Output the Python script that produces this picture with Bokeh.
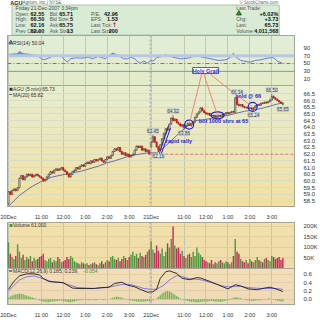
import numpy as np
from bokeh.plotting import figure
from bokeh.layouts import column
from bokeh.models import Range1d, FixedTicker, Span, Label, Grid, NumeralTickFormatter
from bokeh.embed import file_html
from bokeh.resources import INLINE
from bokeh.core.properties import value

FONT = "Liberation Sans"

# ---------------- header data ----------------
symbol = "AGU"
company = "(Agrium, Inc.) NYSE"
stamp = "Friday  21-Dec-2007  3:34pm"
q_open, q_high, q_low, prev_close = "62.55", "66.50", "62.16", 62.00
bid, bid_size, ask, ask_size = "65.71", "5", "65.75", "13"
pe, eps, last_size = "42.96", "1.53", "200"
pct_chg, chg, last, volume_total = "+6.02%", "+3.73", "65.73", "4,011,568"

# ---------------- 5-minute bars, 20 Dec (78) ----------------
d1_open = [58.30, 59.20, 59.00, 59.30, 59.40, 59.30, 59.50, 60.20, 60.40, 60.10,
           60.30, 60.50, 60.40, 60.50, 60.30, 60.40, 60.50, 60.40, 60.30, 60.20,
           60.00, 60.10, 60.30, 60.50, 60.70, 60.60, 60.80, 60.90, 60.80, 60.90,
           61.00, 60.80, 60.70, 60.50, 60.30, 60.50, 60.70, 60.80, 61.00, 60.90,
           61.10, 61.20, 61.10, 61.30, 61.40, 61.30, 61.50, 61.40, 61.60, 61.50,
           61.60, 61.70, 61.50, 61.40, 61.60, 61.80, 61.70, 61.90, 62.20, 62.40,
           62.30, 62.50, 62.20, 62.00, 62.10, 61.90, 62.00, 61.80, 61.90, 62.00,
           62.30, 62.60, 62.50, 62.60, 62.30, 62.40, 62.20, 62.30]
d1_high = [59.25, 59.25, 59.35, 59.45, 59.45, 59.55, 60.25, 60.45, 60.45, 60.35,
           60.55, 60.55, 60.55, 60.55, 60.45, 60.55, 60.55, 60.45, 60.35, 60.25,
           60.15, 60.35, 60.55, 60.75, 60.75, 60.85, 60.95, 60.95, 60.95, 61.05,
           61.05, 60.85, 60.75, 60.55, 60.55, 60.75, 60.85, 61.05, 61.05, 61.15,
           61.25, 61.25, 61.35, 61.45, 61.45, 61.55, 61.55, 61.65, 61.65, 61.65,
           61.75, 61.75, 61.55, 61.65, 61.85, 61.85, 61.95, 62.25, 62.45, 62.45,
           62.55, 62.55, 62.25, 62.15, 62.15, 62.05, 62.05, 61.95, 62.05, 62.35,
           62.65, 62.65, 62.65, 62.65, 62.45, 62.45, 62.35, 62.35]
d1_low = [58.20, 58.95, 58.95, 59.25, 59.20, 59.25, 59.45, 60.15, 60.05, 60.05,
          60.25, 60.35, 60.35, 60.25, 60.25, 60.35, 60.35, 60.25, 60.15, 59.95,
          59.95, 60.05, 60.25, 60.45, 60.55, 60.55, 60.75, 60.75, 60.75, 60.85,
          60.75, 60.65, 60.45, 60.25, 60.25, 60.45, 60.65, 60.75, 60.85, 60.85,
          61.05, 61.05, 61.05, 61.25, 61.25, 61.25, 61.35, 61.35, 61.45, 61.45,
          61.55, 61.45, 61.35, 61.35, 61.55, 61.65, 61.65, 61.85, 62.15, 62.25,
          62.25, 62.15, 61.95, 61.95, 61.85, 61.85, 61.75, 61.75, 61.85, 61.95,
          62.25, 62.45, 62.45, 62.25, 62.25, 62.15, 62.15, 61.95]
d1_close = [59.20, 59.00, 59.30, 59.40, 59.30, 59.50, 60.20, 60.40, 60.10, 60.30,
            60.50, 60.40, 60.50, 60.30, 60.40, 60.50, 60.40, 60.30, 60.20, 60.00,
            60.10, 60.30, 60.50, 60.70, 60.60, 60.80, 60.90, 60.80, 60.90, 61.00,
            60.80, 60.70, 60.50, 60.30, 60.50, 60.70, 60.80, 61.00, 60.90, 61.10,
            61.20, 61.10, 61.30, 61.40, 61.30, 61.50, 61.40, 61.60, 61.50, 61.60,
            61.70, 61.50, 61.40, 61.60, 61.80, 61.70, 61.90, 62.20, 62.40, 62.30,
            62.50, 62.20, 62.00, 62.10, 61.90, 62.00, 61.80, 61.90, 62.00, 62.30,
            62.60, 62.50, 62.60, 62.30, 62.40, 62.20, 62.30, 62.00]

# ---------------- 5-minute bars, 21 Dec (73, to 3:34pm) ----------------
d2_open = [62.55, 62.90, 63.30, 62.90, 62.55, 62.30, 62.70, 63.15, 63.55, 63.90,
           63.80, 64.25, 64.70, 64.50, 64.60, 64.35, 64.25, 64.10, 64.20, 64.00,
           64.15, 64.30, 64.15, 64.25, 64.40, 64.75, 65.00, 65.15, 65.45, 65.25,
           65.10, 65.00, 65.05, 64.90, 64.85, 64.90, 64.80, 64.85, 64.90, 64.86,
           64.95, 65.00, 65.10, 65.02, 65.12, 65.18, 65.12, 66.20, 65.70, 65.62,
           65.70, 65.55, 65.48, 65.50, 65.42, 65.45, 65.38, 65.46, 65.60, 65.70,
           65.65, 65.80, 65.78, 65.88, 65.82, 65.92, 66.05, 66.30, 66.20, 66.10,
           66.00, 65.90, 65.80]
d2_high = [62.95, 63.45, 63.35, 62.95, 62.60, 62.75, 63.20, 63.60, 63.95, 64.05,
           64.30, 64.75, 64.92, 64.70, 64.65, 64.45, 64.35, 64.25, 64.25, 64.20,
           64.35, 64.35, 64.30, 64.45, 64.80, 65.05, 65.20, 65.50, 65.50, 65.30,
           65.15, 65.10, 65.08, 64.95, 64.95, 64.92, 64.90, 64.95, 64.95, 65.00,
           65.05, 65.15, 65.15, 65.15, 65.22, 65.25, 66.25, 66.34, 65.80, 65.75,
           65.72, 65.60, 65.55, 65.52, 65.50, 65.48, 65.50, 65.65, 65.75, 65.78,
           65.85, 65.90, 65.92, 65.95, 65.95, 66.10, 66.50, 66.40, 66.25, 66.15,
           66.05, 65.95, 65.88]
d2_low = [62.45, 62.85, 62.85, 62.50, 62.16, 62.25, 62.65, 63.10, 63.50, 63.70,
          63.75, 64.20, 64.45, 64.45, 64.30, 64.20, 64.05, 64.00, 63.86, 63.95,
          64.10, 64.10, 64.05, 64.15, 64.35, 64.70, 64.95, 65.10, 65.20, 65.05,
          64.95, 64.90, 64.85, 64.80, 64.78, 64.75, 64.75, 64.80, 64.82, 64.84,
          64.90, 64.95, 64.98, 65.00, 65.05, 65.08, 65.10, 65.65, 65.55, 65.55,
          65.50, 65.42, 65.40, 65.38, 65.35, 65.30, 65.24, 65.44, 65.55, 65.60,
          65.62, 65.72, 65.75, 65.78, 65.80, 65.88, 66.00, 66.15, 66.05, 65.95,
          65.85, 65.78, 65.65]
d2_close = [62.90, 63.30, 62.90, 62.55, 62.30, 62.70, 63.15, 63.55, 63.90, 63.80,
            64.25, 64.70, 64.50, 64.60, 64.35, 64.25, 64.10, 64.20, 64.00, 64.15,
            64.30, 64.15, 64.25, 64.40, 64.75, 65.00, 65.15, 65.45, 65.25, 65.10,
            65.00, 65.05, 64.90, 64.85, 64.90, 64.80, 64.85, 64.90, 64.86, 64.95,
            65.00, 65.10, 65.02, 65.12, 65.18, 65.12, 66.20, 65.70, 65.62, 65.70,
            65.55, 65.48, 65.50, 65.42, 65.45, 65.38, 65.46, 65.60, 65.70, 65.65,
            65.80, 65.78, 65.88, 65.82, 65.92, 66.05, 66.30, 66.20, 66.10, 66.00,
            65.90, 65.80, 65.73]

# volume per bar, thousands of shares
vol_d1 = [125, 70, 55, 45, 60, 115, 80, 50, 65, 40,
          55, 45, 60, 35, 50, 40, 45, 55, 60, 70,
          40, 35, 45, 50, 30, 40, 35, 55, 45, 30,
          35, 40, 55, 45, 60, 50, 35, 30, 25, 20,
          30, 25, 20, 25, 15, 20, 25, 30, 20, 15,
          25, 35, 20, 30, 40, 35, 55, 60, 45, 40,
          50, 35, 45, 60, 50, 40, 55, 65, 80, 60,
          70, 50, 75, 60, 55, 65, 80, 90]
vol_d2 = [130, 90, 75, 110, 85, 70, 95, 60, 80, 120,
          100, 140, 200, 110, 95, 100, 70, 85, 60, 50,
          65, 70, 55, 80, 60, 100, 75, 65, 55, 40,
          35, 30, 25, 40, 20, 30, 25, 35, 40, 30,
          25, 35, 30, 20, 30, 60, 140, 80, 70, 45,
          35, 30, 40, 25, 45, 35, 30, 40, 55, 40,
          35, 30, 45, 50, 40, 35, 60, 55, 45, 50,
          55, 40, 50]

# MA(20) (bar index, price)
ma_k = [0, 6, 13, 19, 24, 31, 40, 49, 54, 58, 67, 76, 81, 85, 92, 97, 102, 108, 112, 120, 129, 138, 147, 150]
ma_v = [58.1, 58.93, 59.6, 60.04, 60.3, 60.5, 60.74, 61.1, 61.36, 61.5, 61.9, 62.1, 62.1, 62.5, 63.4, 64.0,
        64.5, 64.6, 64.7, 64.9, 65.2, 65.4, 65.74, 65.82]

# RSI(14)
rsi_k = [0, 5, 6, 8, 12, 15, 17, 19, 21, 24, 28, 29, 32, 34, 37, 40, 44, 46, 49, 53,
         55, 57, 60, 63, 65, 67, 69, 71, 72, 74, 76, 78, 79, 81, 84, 86, 87, 90, 94, 95,
         99, 103, 104, 108, 113, 115, 119, 120, 122, 123, 124, 127, 129, 132, 135, 138, 140, 143, 145, 147, 150]
rsi_v = [73, 74.8, 80.6, 74.8, 73, 70.4, 66, 59.5, 62, 68, 70.4, 68, 53.4, 62, 64.6, 63.8, 66, 62, 68, 62,
         70.4, 76.3, 70.4, 62, 62, 66, 62, 53.4, 50.9, 56, 50.9, 57.7, 56, 64.6, 68, 73, 70.4, 66, 62, 62,
         64.6, 70.4, 68, 64.6, 59.5, 57.7, 59.5, 62, 68, 76.3, 68, 57.7, 56, 53.4, 57.7, 59.5, 62, 64.6, 64.6, 56, 50.04]

# MACD(12,26,9)
macd_k = [0, 3, 6, 10, 14, 17, 19, 22, 26, 30, 31, 35, 38, 42, 47, 51, 55, 58, 62, 65,
          69, 72, 76, 79, 81, 83, 86, 88, 92, 95, 99, 103, 105, 110, 115, 120, 124, 127, 131, 136,
          140, 143, 147, 150]
macd_v = [0.24, 0.43, 0.56, 0.61, 0.61, 0.58, 0.50, 0.43, 0.41, 0.40, 0.37, 0.27, 0.26, 0.26, 0.26, 0.28, 0.29, 0.38, 0.41, 0.34,
          0.30, 0.24, 0.17, 0.18, 0.24, 0.50, 0.66, 0.68, 0.62, 0.50, 0.47, 0.52, 0.51, 0.43, 0.34, 0.25, 0.35, 0.32, 0.25, 0.23,
          0.27, 0.29, 0.24, 0.185]
sig_k = [0, 3, 6, 10, 14, 17, 21, 24, 28, 31, 35, 38, 46, 53, 56, 60, 63, 67, 71, 74,
         78, 81, 85, 88, 92, 95, 99, 103, 106, 111, 117, 120, 124, 127, 131, 138, 145, 150]
sig_v = [0.20, 0.33, 0.46, 0.54, 0.56, 0.52, 0.46, 0.42, 0.41, 0.37, 0.32, 0.28, 0.26, 0.28, 0.30, 0.34, 0.36, 0.35, 0.30, 0.26,
         0.24, 0.24, 0.34, 0.46, 0.57, 0.54, 0.49, 0.48, 0.46, 0.40, 0.32, 0.30, 0.31, 0.31, 0.28, 0.26, 0.26, 0.239]
hist = ([0.04, 0.07, 0.09, 0.11, 0.12, 0.13, 0.14, 0.13, 0.12, 0.10, 0.09, 0.07, 0.06, 0.05, 0.03, 0.02]
        + [-0.01, -0.02, -0.04, -0.05, -0.06, -0.07, -0.07, -0.06, -0.05, -0.05, -0.04, -0.04, -0.03, -0.03,
           -0.04, -0.05, -0.06, -0.07, -0.07, -0.06, -0.05, -0.04, -0.03, -0.02, -0.02, -0.01, -0.01, -0.02,
           -0.02, -0.01, -0.01, -0.02, -0.02, -0.01, -0.01, -0.01, -0.02, -0.01, -0.01, 0.0]
        + [0.02, 0.04, 0.05, 0.06, 0.06, 0.05, 0.04, 0.02, 0.01]
        + [-0.01, -0.02, -0.03, -0.04, -0.04, -0.05, -0.05, -0.06, -0.06, -0.05, -0.05, -0.04, -0.04, -0.03, -0.02, -0.01]
        + [0.02, 0.06, 0.10, 0.14, 0.17, 0.19, 0.20, 0.19, 0.17, 0.14, 0.11, 0.08, 0.05, 0.02]
        + [-0.01, -0.02, -0.03, -0.04, -0.05, -0.06, -0.06, -0.07, -0.07, -0.07, -0.06, -0.06, -0.05, -0.05,
           -0.05, -0.04, -0.04, -0.04, -0.05, -0.05, -0.06, -0.06, -0.05, -0.04, -0.03, -0.02, -0.01]
        + [0.02, 0.04, 0.05, 0.05, 0.04, 0.03, 0.01]
        + [-0.01, -0.02, -0.03, -0.03, -0.04, -0.04, -0.03, -0.03, -0.02, -0.02, -0.01, -0.01, 0.01, 0.02,
           0.02, 0.01, -0.01, -0.02, -0.03, -0.04, -0.05, -0.054])

# time axis
tick_pos = [0, 18, 30, 42, 54, 66, 78, 96, 108, 120, 132, 144]
tick_lab = ["20Dec", "11:00", "12:00", "1:00", "2:00", "3:00", "21Dec", "11:00", "12:00", "1:00", "2:00", "3:00"]
day_break = 77.5
price_ticks = [58.5, 59.0, 59.5, 60.0, 60.5, 61.0, 61.5, 62.0, 62.5, 63.0, 63.5, 64.0, 64.5, 65.0, 65.5, 66.0, 66.5]
rsi_ticks = [10, 30, 50, 70, 90]
vol_ticks = [50, 100, 150, 200]
vol_tick_lab = ["50K", "100K", "150K", "200K"]
macd_ticks = [0.0, 0.2, 0.4, 0.6]

# labelled swing points (bar index) and chartist notes
hi_marks = [79, 90, 125, 144]
lo_marks = [82, 96, 134, 150]

# ---------------------------------------------------------------
opens = np.array(d1_open + d2_open)
highs = np.array(d1_high + d2_high)
lows = np.array(d1_low + d2_low)
closes = np.array(d1_close + d2_close)
vols = np.array(vol_d1 + vol_d2)
n = len(closes)
assert len(opens) == len(highs) == len(lows) == n == len(vols) == len(hist)
assert len(rsi_k) == len(rsi_v) and len(macd_k) == len(macd_v) and len(sig_k) == len(sig_v)
k = np.arange(n)
up = closes >= opens

xr = Range1d(-0.53, 156.4)


def hexmix(c1, c2, t):
    a = [int(c1[i:i + 2], 16) for i in (1, 3, 5)]
    b = [int(c2[i:i + 2], 16) for i in (1, 3, 5)]
    return "#%02x%02x%02x" % tuple(int(round(a[j] + (b[j] - a[j]) * t)) for j in range(3))


def panel(h, y0, y1, c_top, c_bot, xaxis=False, yticks=None):
    p = figure(width=320, height=h, x_range=xr, y_range=Range1d(y0, y1), title=None,
               output_backend="svg", toolbar_location=None,
               x_axis_location="below" if xaxis else None, y_axis_location="right",
               min_border_left=7, min_border_right=19, min_border_top=0, min_border_bottom=0)
    p.outline_line_color = "#8c8c8c"
    p.border_fill_color = "white"
    p.background_fill_color = c_bot
    p.xgrid.visible = False
    p.ygrid.visible = False
    m = 24
    ys = np.linspace(y0, y1, m + 1)
    cols = [hexmix(c_bot, c_top, (i + 0.5) / m) for i in range(m)]
    p.quad(left=xr.start, right=xr.end, bottom=ys[:-1], top=ys[1:], fill_color=cols,
           line_color=None, level="image")
    p.add_layout(Grid(dimension=0, ticker=FixedTicker(ticks=tick_pos), grid_line_color="#c2c9b0",
                      grid_line_width=1))
    p.add_layout(Span(location=day_break, dimension="height", line_color="#9a9a9a",
                      line_dash="2 2", line_width=1))
    ax = p.yaxis[0]
    ax.ticker = FixedTicker(ticks=yticks or [])
    ax.major_label_text_font_size = "6px"
    ax.major_label_text_font = FONT
    ax.major_label_text_color = "#333333"
    ax.major_tick_line_color = None
    ax.minor_tick_line_color = None
    ax.axis_line_color = None
    ax.major_label_standoff = 3
    if xaxis:
        xa = p.xaxis[0]
        xa.ticker = FixedTicker(ticks=tick_pos)
        xa.major_label_overrides = {t: s for t, s in zip(tick_pos, tick_lab)}
        xa.major_label_text_font_size = "5.5px"
        xa.major_label_text_font = FONT
        xa.major_label_text_color = "#333333"
        xa.major_tick_line_color = None
        xa.minor_tick_line_color = None
        xa.axis_line_color = None
        xa.major_label_standoff = 1
    return p


def small_label(p, x, y, text, color="#333333", size="5.5px", bold=False, align="left"):
    p.add_layout(Label(x=x, y=y, text=text, text_font=FONT, text_font_size=size,
                       text_color=color, text_font_style="bold" if bold else "normal",
                       text_align=align, text_baseline="middle"))


# ---------------- header ----------------
hdr = figure(width=320, height=35, x_range=Range1d(0, 320), y_range=Range1d(35, 0), title=None,
             output_backend="svg", toolbar_location=None, x_axis_location=None, y_axis_location=None,
             min_border_left=0, min_border_right=0, min_border_top=0, min_border_bottom=0)
hdr.outline_line_color = None
hdr.xgrid.visible = False
hdr.ygrid.visible = False
hdr.quad(left=[5], right=[303], top=[4.5], bottom=[34.5], fill_color="#d9ebd5", line_color="#a8c6a2")
rows = [7.3, 13.0, 18.7, 24.4, 30.1]
tf = value(FONT)
hdr.text(x=[3], y=[2.2], text=[symbol], text_font=tf, text_font_size=value("5.5px"),
         text_font_style="bold", text_color="#222222", text_baseline="middle")
hdr.text(x=[15], y=[2.2], text=[company], text_font=tf, text_font_size=value("4.5px"),
         text_color="#555555", text_baseline="middle")
hdr.text(x=[302], y=[2.2], text=["\u00a9 StockCharts.com"], text_font=tf, text_font_size=value("4.5px"),
         text_color="#666666", text_baseline="middle", text_align="right")
lab_x = [9, 9, 9, 9, 47, 47, 47, 47, 93, 93, 93, 93]
lab_y = rows[1:] * 3
lab_t = ["Open:", "High:", "Low:", "Prev Close:", "Bid:", "Bid Size:", "Ask:", "Ask Size:",
         "P/E:", "EPS:", "Last Tick:", "Last Size:"]
hdr.text(x=[9], y=[rows[0]], text=[stamp], text_font=tf, text_font_size=value("5px"),
         text_color="#444444", text_baseline="middle")
hdr.text(x=lab_x, y=lab_y, text=lab_t, text_font=tf, text_font_size=value("5px"),
         text_color="#555555", text_baseline="middle")
val_x = [41, 41, 41, 41, 73, 73, 73, 73, 123, 123, 123]
val_y = rows[1:] + rows[1:] + rows[1:3] + rows[4:5]
val_t = [q_open, q_high, q_low, "%.2f" % prev_close, bid, bid_size, ask, ask_size, pe, eps, last_size]
hdr.text(x=val_x, y=val_y, text=val_t, text_font=tf, text_font_size=value("5.5px"),
         text_font_style="bold", text_color="#111111", text_baseline="middle", text_align="right")
hdr.text(x=[122], y=[rows[3]], text=["\u2191"], text_font=value("DejaVu Sans"), text_font_size=value("6px"),
         text_font_style="bold", text_color="#dd1111", text_baseline="middle", text_align="right")
hdr.text(x=[255, 255, 255, 255], y=[rows[0], rows[2], rows[3], rows[4]],
         text=["Last Trade:", "Chg:", "Last:", "Volume:"], text_font=tf, text_font_size=value("5px"),
         text_color="#555555", text_baseline="middle")
hdr.text(x=[302, 302, 302, 302], y=[rows[1], rows[2], rows[3], rows[4]],
         text=[pct_chg, chg, last, volume_total], text_font=tf, text_font_size=value("5.5px"),
         text_font_style="bold", text_color="#111111", text_baseline="middle", text_align="right")
hdr.scatter(x=[258], y=[rows[1]], marker="triangle", size=5, fill_color="#2f8a2f", line_color="#1d6a1d")

# ---------------- RSI ----------------
rsi = panel(50, -6.05, 121.3, "#e2edd8", "#e4ebc8", yticks=rsi_ticks)
rsi.add_layout(Span(location=70, dimension="width", line_color="#b7c8e2", line_width=3))
rsi.add_layout(Span(location=30, dimension="width", line_color="#8390b8", line_width=1))
rsi.add_layout(Span(location=50, dimension="width", line_color="#6675c8", line_width=1, line_dash="4 2 1 2"))
rv = np.array(rsi_v)
rsi.varea(x=rsi_k, y1=[70] * len(rsi_k), y2=np.maximum(rv, 70), fill_color="#3f9aa0", fill_alpha=0.85)
rsi.line(rsi_k, rsi_v, line_color="#5b6fd6", line_width=0.9)
rsi.scatter(x=[1.3], y=[103], marker="triangle", size=4, fill_color="#3d8fa8", line_color="#2a5f88")
small_label(rsi, 2.5, 103, "RSI(14) %.2f" % rsi_v[-1], size="5px")

# ---------------- price ----------------
pr = panel(137, 58.097, 67.125, "#e6eed2", "#f2dfa0", xaxis=True, yticks=price_ticks)
pr.yaxis[0].formatter = NumeralTickFormatter(format="0.0")
pr.add_layout(Grid(dimension=1, ticker=FixedTicker(ticks=price_ticks), grid_line_color="#d9dcc2",
                   grid_line_width=1))
pr.segment(x0=day_break, y0=prev_close, x1=xr.end, y1=prev_close, line_color="#f06060",
           line_dash="3 2", line_width=0.8)
pr.line(ma_k, ma_v, line_color="#6a6ea8", line_width=1)
last_i = n - 1
body_top = np.maximum(opens, closes)
body_bot = np.minimum(opens, closes)
wick_col = np.where(up, "#333333", "#a01010")
pr.segment(x0=k, y0=highs, x1=k, y1=lows, line_color=list(wick_col), line_width=0.6)
m_up = up.copy(); m_up[last_i] = False
m_dn = ~up; m_dn[last_i] = False
pr.vbar(x=k[m_up], width=0.72, top=body_top[m_up], bottom=body_bot[m_up],
        fill_color="#f5f0da", line_color="#2c2c2c", line_width=0.6)
pr.vbar(x=k[m_dn], width=0.72, top=body_top[m_dn], bottom=body_bot[m_dn],
        fill_color="#ee1b1b", line_color="#b01010", line_width=0.6)
pr.vbar(x=[k[last_i]], width=0.9, top=[body_top[last_i]], bottom=[body_bot[last_i]],
        fill_color="#55dd55", line_color="#119911", line_width=0.8)
for kk in hi_marks:
    pr.add_layout(Label(x=kk, y=highs[kk] + 0.15, text="%.2f" % highs[kk], text_font=FONT,
                        text_font_size="4.5px", text_color="#333333", text_align="center",
                        text_baseline="bottom", background_fill_color="#dfeaf0",
                        border_line_color="#93a8b4", border_line_width=0.6))
for kk in lo_marks:
    pr.add_layout(Label(x=kk, y=lows[kk] - 0.15, text="%.2f" % lows[kk], text_font=FONT,
                        text_font_size="4.5px", text_color="#333333", text_align="center",
                        text_baseline="top", background_fill_color="#dfeaf0",
                        border_line_color="#93a8b4", border_line_width=0.6))
pr.scatter(x=[1.4], y=[66.85], marker="square", size=3, fill_color="#333333", line_color=None)
small_label(pr, 2.5, 66.85, "AGU (5 min) %.2f" % closes[-1], size="5px")
pr.segment(x0=0.3, y0=66.45, x1=2.1, y1=66.45, line_color="#6a6ea8", line_width=1)
small_label(pr, 2.5, 66.45, "MA(20) %.2f" % ma_v[-1], size="5px")

# chartist notes
BLUE = "#1a22d8"
pr.ellipse(x=[98.8, 114.3, 133.5], y=[64.21, 64.9, 65.53], width=[9, 13, 9], height=[9, 7, 9],
           width_units="screen", height_units="screen", fill_color=None, line_color=BLUE, line_width=1.2)
pr.segment(x0=[82.5, 83.6], y0=[62.05, 62.05], x1=[87.6, 88.6], y1=[64.15, 63.95],
           line_color=BLUE, line_width=1)
small_label(pr, 86.0, 62.95, "rapid rally", color=BLUE, size="5.5px", bold=True)
small_label(pr, 104.0, 64.45, "bot 1000 shrs at 65", color=BLUE, size="5.5px", bold=True)
small_label(pr, 124.0, 66.36, "sold @ 66", color=BLUE, size="5.5px", bold=True)

# Holy Grail callout (label in RSI pane, leader lines run down into the price pane)
HG_RED = "#f07a6a"
hg_k, hg_rsi = 107.8, 32
lead_start_k = [105.5, 107.0, 110.5]
lead_end = [(98.8, 64.21), (114.3, 64.9), (133.5, 65.53)]
top_price, top_rsi, pane_edge_price, pane_edge_rsi = 67.89, 22.0, 67.125, -6.05
rx0, ry0, rx1, ry1 = [], [], [], []
for sk, (tk, tp) in zip(lead_start_k, lead_end):
    t = (top_price - pane_edge_price) / (top_price - tp)
    rx0.append(sk); ry0.append(top_rsi); rx1.append(sk + t * (tk - sk)); ry1.append(pane_edge_rsi)
pr.segment(x0=lead_start_k, y0=[top_price] * 3, x1=[e[0] for e in lead_end], y1=[e[1] for e in lead_end],
           line_color=HG_RED, line_width=0.9)
rsi.segment(x0=rx0, y0=ry0, x1=rx1, y1=ry1, line_color=HG_RED, line_width=0.9)
rsi.add_layout(Label(x=hg_k, y=hg_rsi, text="Holy Grail", text_font=FONT, text_font_size="5.5px",
                     text_font_style="bold", text_color=BLUE, text_align="center", text_baseline="middle",
                     background_fill_color="white", border_line_color="#30305a", border_line_width=0.8))

# ---------------- volume ----------------
vp = panel(46, 0, 219, "#f3e1ac", "#efdba8", yticks=vol_ticks)
vp.yaxis[0].major_label_overrides = {t: s for t, s in zip(vol_ticks, vol_tick_lab)}
vp.add_layout(Grid(dimension=1, ticker=FixedTicker(ticks=vol_ticks), grid_line_color="#e2cf9c"))
vcol = np.where(up, "#4d9a3d", "#c72a5b")
vp.vbar(x=k, width=0.78, top=vols, bottom=0, fill_color=list(vcol), line_color=None)
vp.scatter(x=[1.4], y=[205], marker="square", size=3, fill_color="#4d9a3d", line_color=None)
small_label(vp, 2.5, 205, "Volume 61,000", size="5px")

# ---------------- MACD ----------------
mp = panel(52, -0.123, 0.737, "#f3dfb6", "#efd9b8", xaxis=True, yticks=macd_ticks)
mp.yaxis[0].formatter = NumeralTickFormatter(format="0.0")
mp.add_layout(Grid(dimension=1, ticker=FixedTicker(ticks=macd_ticks), grid_line_color="#e3cfa8"))
mp.vbar(x=k, width=0.7, top=hist, bottom=0, fill_color="#72b255", line_color=None)
mp.line(sig_k, sig_v, line_color="#7b68e6", line_width=0.9)
mp.line(macd_k, macd_v, line_color="#1c1c1c", line_width=0.9)
mp.segment(x0=0.3, y0=0.678, x1=2.1, y1=0.678, line_color="#1c1c1c", line_width=1)
small_label(mp, 2.5, 0.678, "MACD(12,26,9) %.3f, %.3f," % (macd_v[-1], sig_v[-1]), size="5px")
small_label(mp, 41.0, 0.678, "%.3f" % hist[-1], color="#3e9a2a", size="5px")

layout = column(hdr, rsi, pr, vp, mp, spacing=0)
open("out.html", "w").write(file_html(layout, INLINE))
